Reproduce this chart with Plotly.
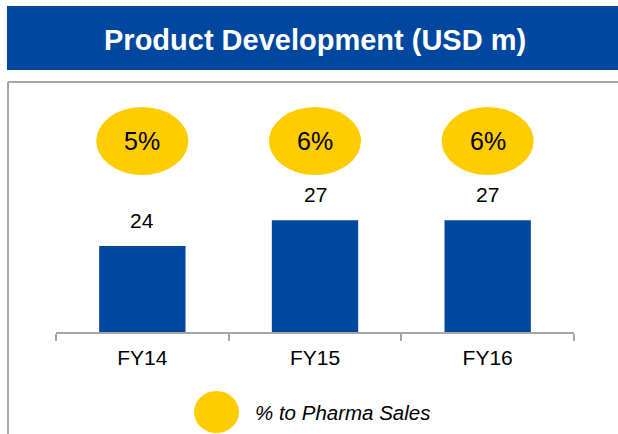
import plotly.graph_objects as go

# Product development spend (USD m) and share of pharma sales
years = ["FY14", "FY15", "FY16"]
spend = [24, 27, 27]
pct_labels = ["5%", "6%", "6%"]

W, H = 618, 434
# plot-area edges in pixels
L, R, T, B = 56, 574, 90, 332
Y_MIN = 14
PX_PER_UNIT = 8.6
Y_MAX = Y_MIN + (B - T) / PX_PER_UNIT

BLUE = "#0047A0"
YELLOW = "#FFCC00"
GREY = "#A6A6A6"
FONT = "Liberation Sans, Arial, sans-serif"


def px_x(px):
    return (px - L) / (R - L)


def px_y(py):
    return (B - py) / (B - T)


fig = go.Figure()
fig.add_trace(go.Bar(
    x=years, y=spend, marker=dict(color=BLUE, line=dict(width=0)),
    width=0.5, hoverinfo="skip",
))

shapes = [
    # header banner
    dict(type="rect", xref="paper", yref="paper", layer="below",
         x0=px_x(7), x1=px_x(630), y0=px_y(70), y1=px_y(6),
         fillcolor=BLUE, line=dict(width=0)),
    # panel border (top and left)
    dict(type="line", xref="paper", yref="paper",
         x0=px_x(8), x1=px_x(630), y0=px_y(82), y1=px_y(82),
         line=dict(color=GREY, width=2)),
    dict(type="line", xref="paper", yref="paper",
         x0=px_x(8), x1=px_x(8), y0=px_y(82), y1=px_y(440),
         line=dict(color=GREY, width=2)),
    # legend swatch
    dict(type="circle", xref="paper", yref="paper",
         x0=px_x(194), x1=px_x(239), y0=px_y(391), y1=px_y(433),
         fillcolor=YELLOW, line=dict(width=0)),
]

annotations = [
    dict(text="<b>Product Development (USD m)</b>", xref="paper", yref="paper",
         x=px_x(315), y=px_y(40), showarrow=False, xanchor="center", yanchor="middle",
         font=dict(family=FONT, size=29, color="white")),
    dict(text="<i>% to Pharma Sales</i>", xref="paper", yref="paper",
         x=px_x(253), y=px_y(412), showarrow=False, xanchor="left", yanchor="middle",
         font=dict(family=FONT, size=20.5, color="#000000")),
]

for i, (yr, v, p) in enumerate(zip(years, spend, pct_labels)):
    # share-of-sales bubble above each bar
    shapes.append(dict(type="circle", xref="x", yref="paper",
                       xsizemode="pixel", xanchor=i, x0=-46, x1=46,
                       y0=px_y(175), y1=px_y(107),
                       fillcolor=YELLOW, line=dict(width=0)))
    annotations.append(dict(text=p, x=yr, xref="x", yref="paper", y=px_y(141),
                            showarrow=False, yanchor="middle",
                            font=dict(family=FONT, size=25, color="#000000")))
    # value label over the bar
    annotations.append(dict(text=str(v), x=yr, y=v, xref="x", yref="y",
                            showarrow=False, yanchor="bottom", yshift=12,
                            font=dict(family=FONT, size=21, color="#000000")))

fig.update_layout(
    width=W, height=H,
    margin=dict(l=L, r=W - R, t=T, b=H - B),
    paper_bgcolor="white", plot_bgcolor="white",
    showlegend=False,
    shapes=shapes, annotations=annotations,
    xaxis=dict(type="category", showline=True, linecolor=GREY, linewidth=1.5,
               ticks="outside", tickson="boundaries", ticklen=7, tickcolor=GREY,
               tickwidth=1.5, showgrid=False, ticklabelstandoff=6,
               tickfont=dict(family=FONT, size=21, color="#000000"),
               fixedrange=True),
    yaxis=dict(range=[Y_MIN, Y_MAX], visible=False, fixedrange=True),
)

fig.write_html("out.html", config={"displayModeBar": False})
